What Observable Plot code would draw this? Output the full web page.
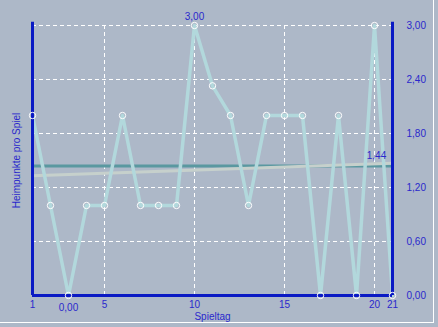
<!DOCTYPE html>
<html>
<head>
<meta charset="utf-8">
<script src="https://cdn.jsdelivr.net/npm/d3@7"></script>
<script src="https://cdn.jsdelivr.net/npm/@observablehq/plot@0.6"></script>
<style>
  html, body { margin: 0; padding: 0; background: #adb8c8; }
  #wrap { position: relative; width: 438px; height: 327px; overflow: hidden; }
  #frame { position: absolute; left: 0; top: 0; width: 433px; height: 322px; border-right: 1px solid #fff; border-bottom: 1px solid #fff; pointer-events: none; }
</style>
</head>
<body>
<div id="wrap"><div id="frame"></div></div>
<script>
// Data
const spieltage = [1,2,3,4,5,6,7,8,9,10,11,12,13,14,15,16,17,18,19,20,21];
const heimpunkte = [2,1,0,1,1,2,1,1,1,3,2.33,2,1,2,2,2,0,2,0,3,0];
const durchschnitt = 1.44;
const trendStart = 1.33;
const trendEnd = 1.47;
const xTicks = [1,5,10,15,20,21];
const xGrid = [5,10,15,20];
const yTicks = [0,0.6,1.2,1.8,2.4,3.0];
const yGrid = [0.6,1.2,1.8,2.4,3.0];
const xLabel = "Spieltag";
const yLabel = "Heimpunkte pro Spiel";

const data = spieltage.map((s, i) => ({tag: s, wert: heimpunkte[i]}));
const fmt = d => d.toFixed(2).replace(".", ",");
const blue = "#0a1ac4";
const textBlue = "#2a28cc";

const minI = heimpunkte.indexOf(d3.min(heimpunkte));
const maxI = heimpunkte.indexOf(d3.max(heimpunkte));
const first = spieltage[0], last = spieltage[spieltage.length - 1];

const chart = Plot.plot({
  width: 438,
  height: 327,
  marginLeft: 32,
  marginRight: 46,
  marginTop: 25,
  marginBottom: 32,
  style: {background: "transparent", fontFamily: "'Liberation Sans', Arial, sans-serif", fontSize: "10px"},
  x: {domain: [first, last]},
  y: {domain: [0, 3]},
  marks: [
    Plot.gridX(xGrid, {stroke: "#ffffff", strokeOpacity: 1, strokeWidth: 1, strokeDasharray: "4,3"}),
    Plot.gridY(yGrid, {stroke: "#ffffff", strokeOpacity: 1, strokeWidth: 1, strokeDasharray: "4,3"}),
    Plot.ruleY([durchschnitt], {x1: first, x2: last, stroke: "#5a98a0", strokeWidth: 3}),
    Plot.line([{tag: first, wert: trendStart}, {tag: last, wert: trendEnd}], {x: "tag", y: "wert", stroke: "#c6d0cc", strokeWidth: 3}),
    Plot.line(data, {x: "tag", y: "wert", stroke: "#b2d8dc", strokeWidth: 3.5}),
    Plot.ruleX([first, last], {y1: 0, y2: 3.035, stroke: blue, strokeWidth: 3}),
    Plot.ruleY([0], {x1: first, x2: last, stroke: blue, strokeWidth: 3}),
    Plot.dot(data, {x: "tag", y: "wert", r: 3.2, stroke: "#ffffff", strokeWidth: 1, fill: "none"}),
    Plot.axisX({ticks: xTicks, tickSize: 0, tickPadding: 5, tickFormat: d => String(d), color: textBlue, label: null, fontSize: 10}),
    Plot.axisY({anchor: "right", ticks: yTicks, tickSize: 0, tickPadding: 14, tickFormat: fmt, color: textBlue, label: null, fontSize: 10}),
    Plot.text([heimpunkte[maxI]], {x: spieltage[maxI], y: d => d, text: d => fmt(d), dy: -9, fill: textBlue, fontSize: 10}),
    Plot.text([heimpunkte[minI]], {x: spieltage[minI], y: d => d, text: d => fmt(d), dy: 8, lineAnchor: "top", fill: textBlue, fontSize: 10}),
    Plot.text([durchschnitt], {x: 20, y: d => d, text: d => fmt(d), dx: 2, dy: -10, fill: textBlue, fontSize: 10}),
    Plot.text([xLabel], {frameAnchor: "bottom", dy: 21, lineAnchor: "middle", textAnchor: "middle", fill: textBlue, fontSize: 10}),
    Plot.text([yLabel], {frameAnchor: "left", rotate: -90, dx: -16, textAnchor: "middle", lineAnchor: "middle", fill: textBlue, fontSize: 10})
  ]
});
document.getElementById("wrap").insertBefore(chart, document.getElementById("frame"));
</script>
</body>
</html>
